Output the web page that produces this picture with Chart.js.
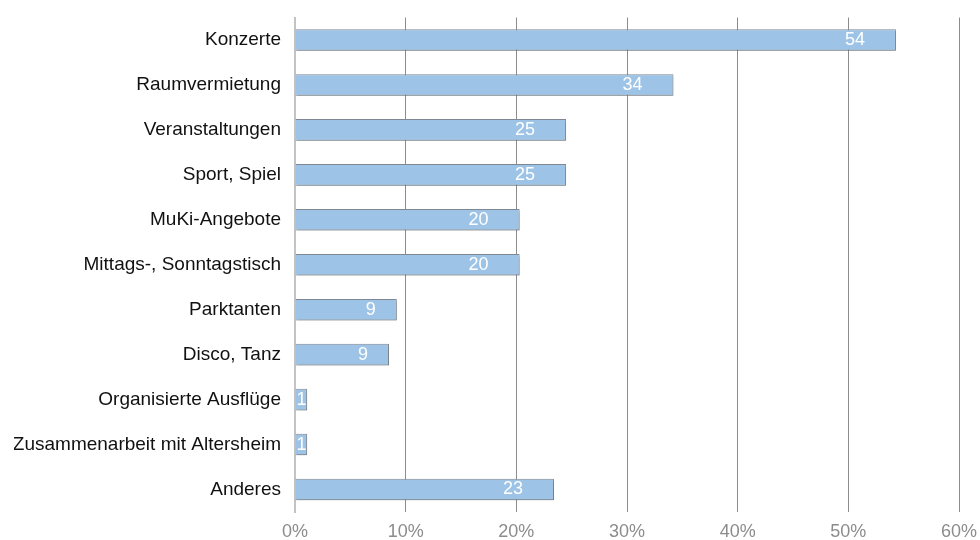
<!DOCTYPE html>
<html>
<head>
<meta charset="utf-8">
<title>Angebote</title>
<script src="https://cdn.jsdelivr.net/npm/chart.js@4/dist/chart.umd.min.js"></script>
<style>
  body { margin: 0; background: #ffffff; }
  #wrap { width: 980px; height: 540px; }
</style>
</head>
<body>
<div id="wrap"><canvas id="myChart" width="980" height="540"></canvas></div>
<script>
// categorie sull'asse verticale (dall'alto in basso)
var categorie = ['Konzerte', 'Raumvermietung', 'Veranstaltungen', 'Sport, Spiel', 'MuKi-Angebote',
    'Mittags-, Sonntagstisch', 'Parktanten', 'Disco, Tanz', 'Organisierte Ausflüge',
    'Zusammenarbeit mit Altersheim', 'Anderes'];
// percentuale per ogni categoria
var percentuali = [54.3, 34.2, 24.5, 24.5, 20.3, 20.3, 9.2, 8.5, 1.1, 1.1, 23.4];
// valori delle etichette dell'asse orizzontale
var tickPercent = [0, 10, 20, 30, 40, 50, 60];

var font = '"Liberation Sans", Arial, Helvetica, sans-serif';

// ombra leggera sotto le barre
var ombra = {
    id: 'ombra',
    beforeDatasetDraw: function(chart) {
        var ctx = chart.ctx;
        ctx.save();
        ctx.shadowColor = 'rgba(0, 0, 0, 0.18)';
        ctx.shadowBlur = 2;
        ctx.shadowOffsetX = 1;
        ctx.shadowOffsetY = 2;
    },
    afterDatasetDraw: function(chart) {
        chart.ctx.restore();
    }
};

// numero bianco dentro la fine della barra
var etichette = {
    id: 'etichette',
    afterDatasetsDraw: function(chart) {
        var ctx = chart.ctx;
        var meta = chart.getDatasetMeta(0);
        ctx.save();
        ctx.font = '18px ' + font;
        ctx.fillStyle = '#ffffff';
        ctx.textBaseline = 'middle';
        ctx.textAlign = 'left';
        meta.data.forEach(function(bar, i) {
            var testo = String(Math.round(percentuali[i]));
            var w = ctx.measureText(testo).width;
            var x = bar.x - 11 - 2 * w;
            if (x < bar.base + 1) {
                x = bar.base + 1;
            }
            ctx.fillText(testo, x, bar.y);
        });
        ctx.restore();
    }
};

var ctx = document.getElementById('myChart').getContext('2d');
var myChart = new Chart(ctx, {
    type: 'bar',
    data: {
        labels: categorie,
        datasets: [{
            data: percentuali,
            backgroundColor: '#9dc3e6',
            borderColor: '#7f8792',
            borderWidth: 1,
            borderSkipped: 'start',
            barPercentage: 0.48,
            categoryPercentage: 1
        }]
    },
    options: {
        indexAxis: 'y',
        responsive: false,
        animation: false,
        layout: {
            padding: { top: 17.5, right: 21, bottom: 0, left: 14 }
        },
        plugins: {
            legend: { display: false },
            tooltip: { enabled: false }
        },
        scales: {
            x: {
                min: tickPercent[0],
                max: tickPercent[tickPercent.length - 1],
                afterBuildTicks: function(scale) {
                    scale.ticks = tickPercent.map(function(v) { return { value: v }; });
                },
                afterFit: function(scale) {
                    // altezza fissa e niente margini extra ai lati
                    scale.height = 28;
                    scale.paddingLeft = 0;
                    scale.paddingRight = 0;
                },
                grid: {
                    drawTicks: false,
                    lineWidth: 1,
                    color: function(c) {
                        // la linea dello zero la disegna l'asse verticale
                        return c.tick && c.tick.value === 0 ? 'rgba(0,0,0,0)' : '#8c8c8c';
                    }
                },
                border: { display: false },
                ticks: {
                    padding: 11,
                    color: '#8c8c8c',
                    font: { family: font, size: 18, lineHeight: 1 },
                    callback: function(v) { return v + '%'; }
                }
            },
            y: {
                afterFit: function(scale) {
                    scale.width = 281;
                    scale.paddingTop = 0;
                    scale.paddingBottom = 0;
                },
                grid: { display: false, drawTicks: false },
                border: { display: true, color: '#c3c3c3', width: 2 },
                ticks: {
                    padding: 14,
                    autoSkip: false,
                    color: '#111111',
                    font: { family: font, size: 19 }
                }
            }
        }
    },
    plugins: [ombra, etichette]
});
</script>
</body>
</html>
